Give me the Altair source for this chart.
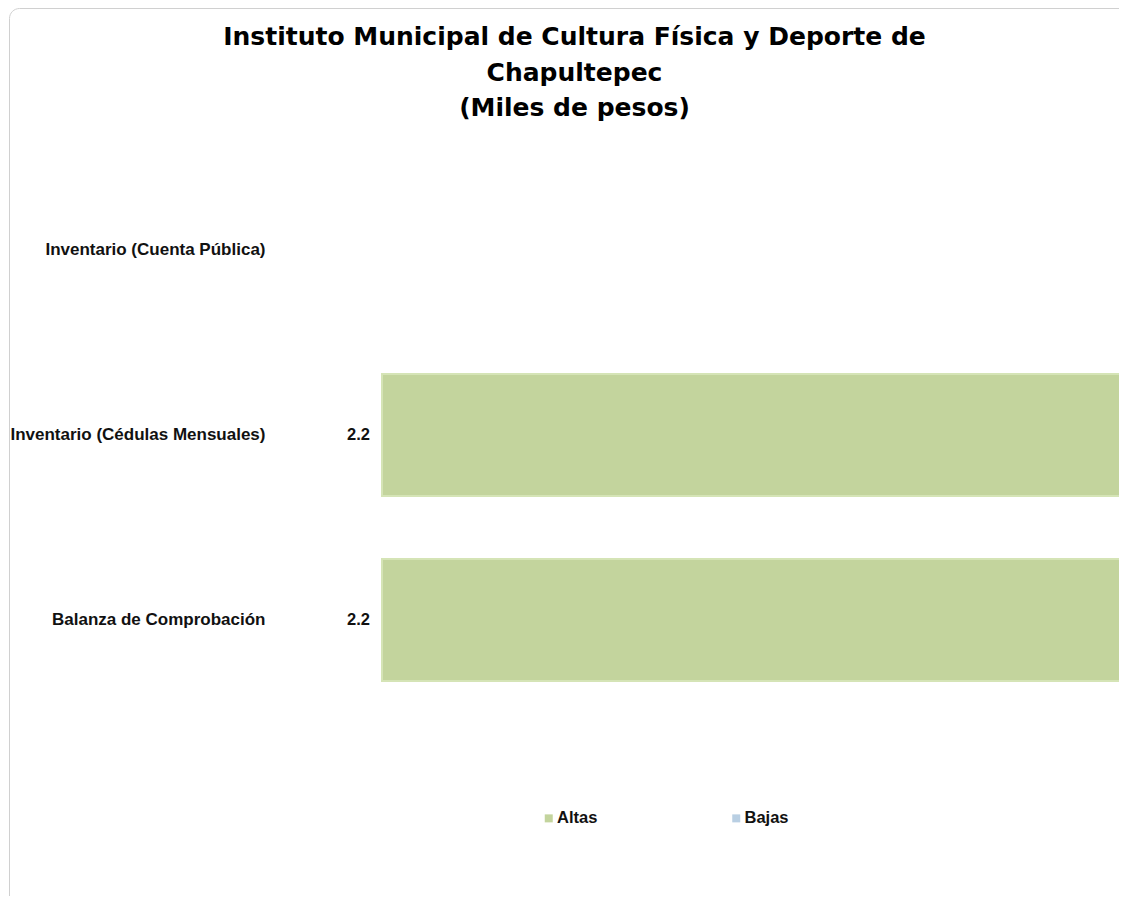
import altair as alt
import pandas as pd

categories = [
    "Inventario (Cuenta Pública)",
    "Inventario (Cédulas Mensuales)",
    "Balanza de Comprobación",
]
altas = [None, 2.2, 2.2]
bajas = [None, None, None]
series = ["Altas", "Bajas"]
colors = ["#c3d49d", "#b9cfe3"]
title_lines = [
    "Instituto Municipal de Cultura Física y Deporte de",
    "Chapultepec",
    "(Miles de pesos)",
]

rows = []
for c, a, b in zip(categories, altas, bajas):
    rows.append({"categoria": c, "serie": "Altas", "valor": a})
    rows.append({"categoria": c, "serie": "Bajas", "valor": b})
df = pd.DataFrame(rows)

W, H = 1140, 900
LABEL_FONT = "Liberation Sans"

base = alt.Chart(df).transform_filter("isValid(datum.valor)")

y_enc = alt.Y(
    "categoria:N",
    sort=categories,
    scale=alt.Scale(domain=categories, range=[149.5, 704.5],
                    paddingInner=0.34, paddingOuter=0.17),
    axis=alt.Axis(
        title=None, orient="left", offset=-256, labelPadding=0, ticks=False,
        tickSize=0, domain=False, grid=False, labelFont=LABEL_FONT,
        labelFontSize=17, labelFontWeight="bold", labelColor="#111111",
        labelLimit=400, labelAlign="right", labelBaseline="middle",
    ),
)
x_scale = alt.Scale(domain=[0, 2.2], range=[373, W], nice=False, zero=True)

bars = base.mark_bar(stroke="#d5e4b6", strokeWidth=2).encode(
    y=y_enc,
    x=alt.X("valor:Q", scale=x_scale, axis=None, stack=None),
    color=alt.Color(
        "serie:N",
        scale=alt.Scale(domain=series, range=colors),
        legend=alt.Legend(
            title=None, orient="none", legendX=531.5, legendY=802,
            direction="horizontal", columns=2, symbolType="square",
            symbolSize=64, symbolStrokeWidth=0, labelFont=LABEL_FONT,
            labelFontSize=16.5, labelFontWeight="bold", labelColor="#111111",
            labelOffset=0, columnPadding=126.5, gridAlign="all", padding=0,
        ),
    ),
)

labels = base.transform_calculate(base0="0").mark_text(
    align="right", baseline="middle", dx=-12, font=LABEL_FONT,
    fontSize=16.5, fontWeight="bold", color="#111111",
).encode(
    y=y_enc,
    x=alt.X("base0:Q", scale=x_scale, axis=None),
    text=alt.Text("valor:Q", format=".1f"),
)

chart = alt.layer(bars, labels).properties(
    width=W,
    height=H,
    autosize=alt.AutoSizeParams(type="none"),
    padding={"left": 1, "top": 0, "right": -30, "bottom": -12},
    background="white",
    title=alt.TitleParams(
        text=title_lines, font="DejaVu Sans", fontSize=25, fontWeight="bold",
        color="#000000", anchor="middle", frame="group", offset=-113,
        lineHeight=35.5, dx=-4.5,
    ),
).configure_view(stroke="#d0d0d0", strokeWidth=1, cornerRadius=10)

chart.save("out.html", embed_options={"renderer": "svg", "actions": False})
